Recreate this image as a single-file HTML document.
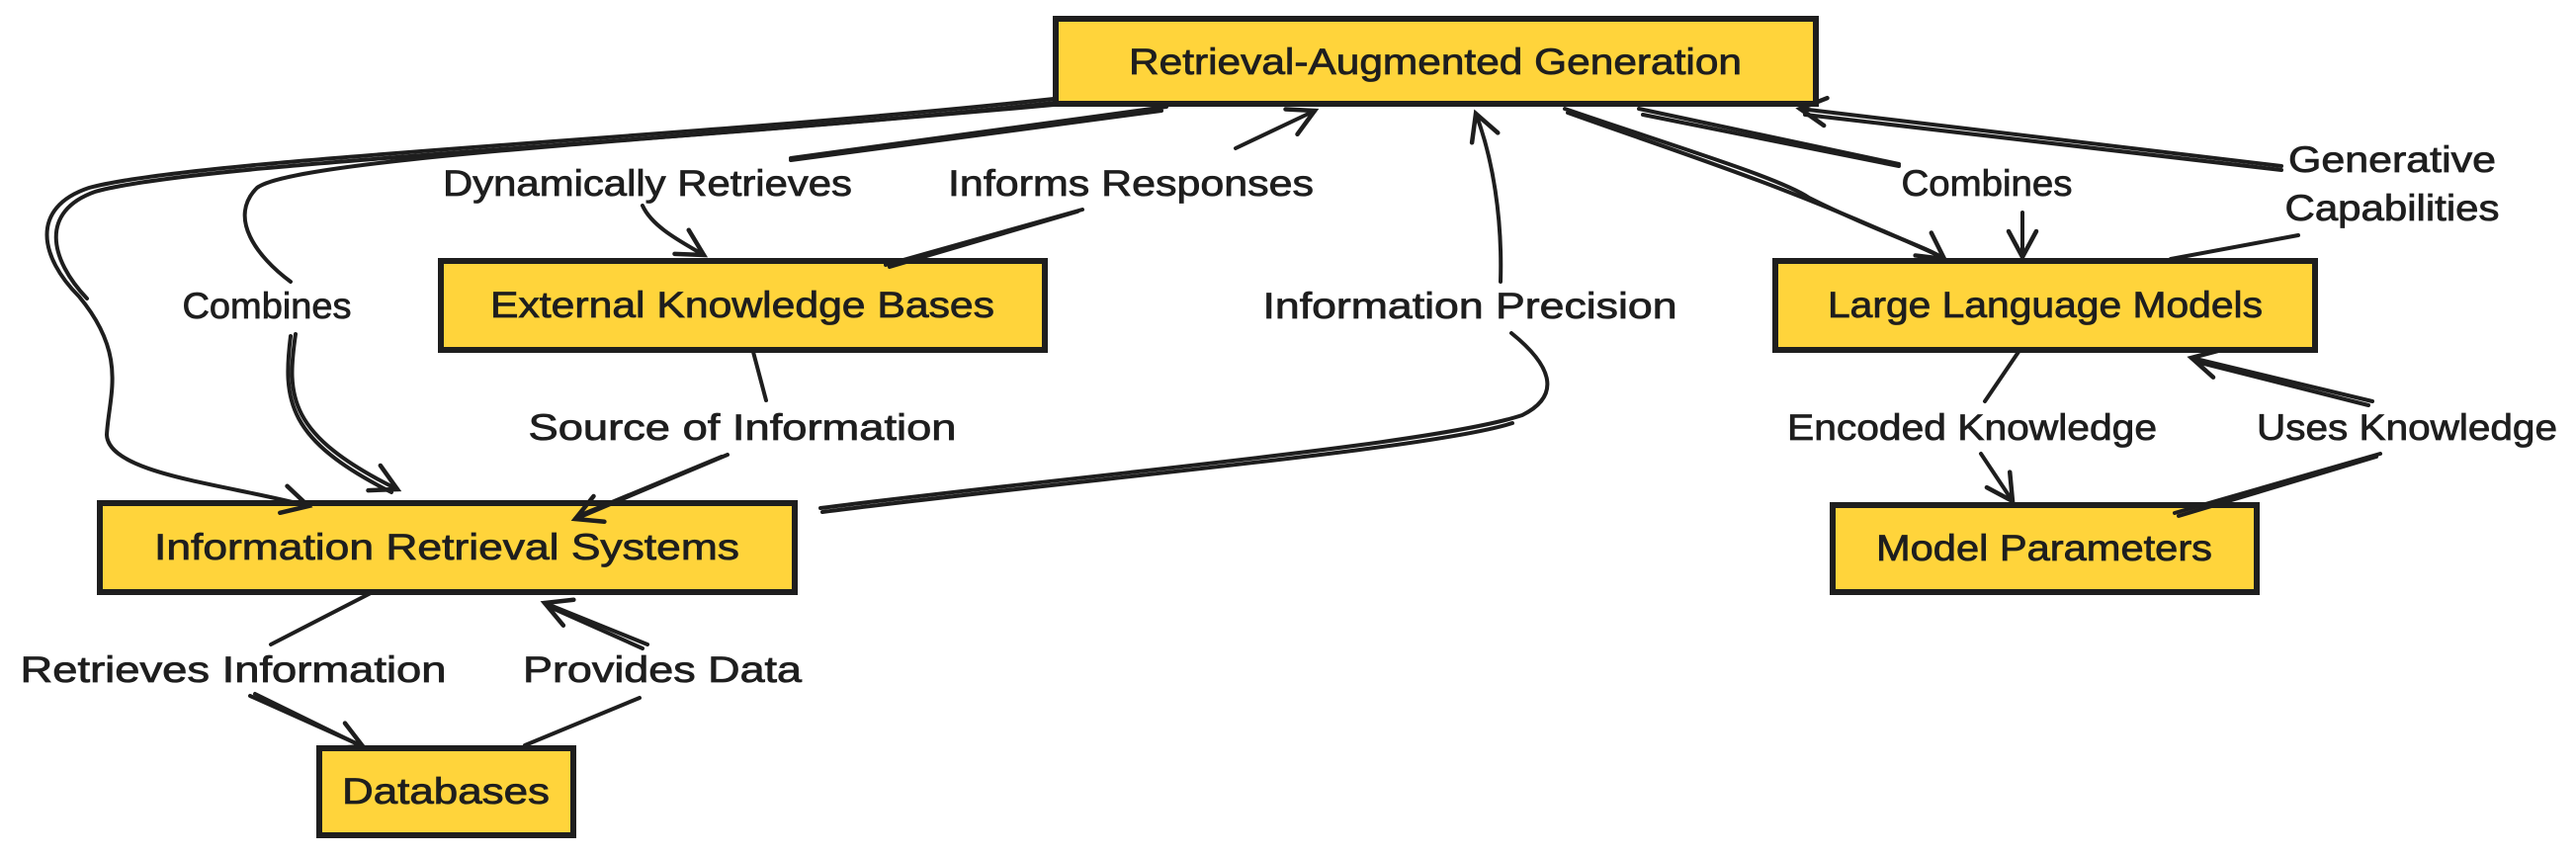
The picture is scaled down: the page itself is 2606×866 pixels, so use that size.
<!DOCTYPE html>
<html><head><meta charset="utf-8"><style>
html,body{margin:0;padding:0;background:#fff;}
svg{display:block;}
text{font-family:"Liberation Sans",sans-serif;fill:#1e1e1e;stroke:#1e1e1e;stroke-width:0.8;}
</style></head><body>
<svg width="2606" height="866" viewBox="0 0 2606 866" xmlns="http://www.w3.org/2000/svg">
<defs>
<marker id="a" markerUnits="userSpaceOnUse" markerWidth="40" markerHeight="40" refX="30" refY="20" orient="auto">
<path d="M4,6 L30,20 L4,34" fill="none" stroke="#1e1e1e" stroke-width="4.5" stroke-linecap="round"/>
</marker>
</defs>
<g fill="#ffd43b" stroke="#1e1e1e" stroke-width="6">
<rect x="1068" y="19" width="769" height="86"/>
<rect x="446" y="264" width="611" height="90"/>
<rect x="101" y="509" width="703" height="90"/>
<rect x="323" y="757" width="257" height="88"/>
<rect x="1796" y="264" width="546" height="90"/>
<rect x="1854" y="511" width="429" height="88"/>
</g>
<g fill="none" stroke="#1e1e1e" stroke-width="4" stroke-linecap="round">
<path d="M1066,100 C700,140 200,160 90,190 C30,210 40,260 80,300 C130,360 110,400 108,440 C110,480 230,490 312,512" marker-end="url(#a)"/>
<path d="M1066,104 C700,144 200,164 96,194 C40,214 50,262 88,302" />
<path d="M1066,106 C700,140 300,160 260,190 C230,220 260,260 294,285"/>
<path d="M299,338 C290,400 290,440 402,495" marker-end="url(#a)"/>
<path d="M294,340 C286,405 290,445 396,498"/>
<path d="M1180,108 L800,160"/>
<path d="M1175,112 L800,162"/>
<path d="M650,208 C660,230 690,245 712,258" marker-end="url(#a)"/>
<path d="M896,268 L1095,212"/>
<path d="M900,270 L1090,214"/>
<path d="M1250,150 L1330,112" marker-end="url(#a)"/>
<path d="M762,356 L775,405"/>
<path d="M736,460 L582,525" marker-end="url(#a)"/>
<path d="M730,462 L590,520"/>
<path d="M830,514 C1100,480 1450,450 1540,420 C1580,400 1570,370 1529,337"/>
<path d="M832,518 C1100,484 1450,454 1530,428"/>
<path d="M1518,285 C1520,220 1510,160 1493,115" marker-end="url(#a)"/>
<path d="M1583,110 C1700,150 1800,180 1830,200 C1900,235 1950,250 1967,262" marker-end="url(#a)"/>
<path d="M1586,114 C1700,155 1800,185 1960,258"/>
<path d="M1658,110 L1921,166"/>
<path d="M1662,116 L1921,168"/>
<path d="M2046,215 L2046,260" marker-end="url(#a)"/>
<path d="M2196,262 L2325,238"/>
<path d="M2308,168 L1821,110" marker-end="url(#a)"/>
<path d="M2308,172 L1826,116"/>
<path d="M2042,356 L2008,406"/>
<path d="M2004,459 L2036,507" marker-end="url(#a)"/>
<path d="M2200,519 L2408,459"/>
<path d="M2204,522 L2404,462"/>
<path d="M2400,406 L2217,362" marker-end="url(#a)"/>
<path d="M2396,410 L2222,366"/>
<path d="M377,599 L274,652"/>
<path d="M253,704 L367,755" marker-end="url(#a)"/>
<path d="M258,702 L360,752"/>
<path d="M531,754 L647,706"/>
<path d="M655,652 L551,610" marker-end="url(#a)"/>
<path d="M650,656 L556,614"/>
</g>
<g font-size="37" text-anchor="middle">
<text x="1452" y="75" textLength="620" lengthAdjust="spacingAndGlyphs">Retrieval-Augmented Generation</text>
<text x="751" y="321" textLength="510" lengthAdjust="spacingAndGlyphs">External Knowledge Bases</text>
<text x="452" y="566" textLength="592" lengthAdjust="spacingAndGlyphs">Information Retrieval Systems</text>
<text x="451" y="813" textLength="210" lengthAdjust="spacingAndGlyphs">Databases</text>
<text x="2069" y="321" textLength="440" lengthAdjust="spacingAndGlyphs">Large Language Models</text>
<text x="2068" y="567" textLength="340" lengthAdjust="spacingAndGlyphs">Model Parameters</text>
<text x="655" y="198" textLength="414" lengthAdjust="spacingAndGlyphs">Dynamically Retrieves</text>
<text x="1144" y="198" textLength="370" lengthAdjust="spacingAndGlyphs">Informs Responses</text>
<text x="270" y="322" textLength="171" lengthAdjust="spacingAndGlyphs">Combines</text>
<text x="751" y="445" textLength="433" lengthAdjust="spacingAndGlyphs">Source of Information</text>
<text x="236" y="690" textLength="431" lengthAdjust="spacingAndGlyphs">Retrieves Information</text>
<text x="670" y="690" textLength="282" lengthAdjust="spacingAndGlyphs">Provides Data</text>
<text x="1487" y="322" textLength="419" lengthAdjust="spacingAndGlyphs">Information Precision</text>
<text x="2010" y="198" textLength="173" lengthAdjust="spacingAndGlyphs">Combines</text>
<text x="2420" y="174" textLength="210" lengthAdjust="spacingAndGlyphs">Generative</text>
<text x="2420" y="223" textLength="217" lengthAdjust="spacingAndGlyphs">Capabilities</text>
<text x="1995" y="445" textLength="374" lengthAdjust="spacingAndGlyphs">Encoded Knowledge</text>
<text x="2435" y="445" textLength="304" lengthAdjust="spacingAndGlyphs">Uses Knowledge</text>
</g>
</svg>
</body></html>
